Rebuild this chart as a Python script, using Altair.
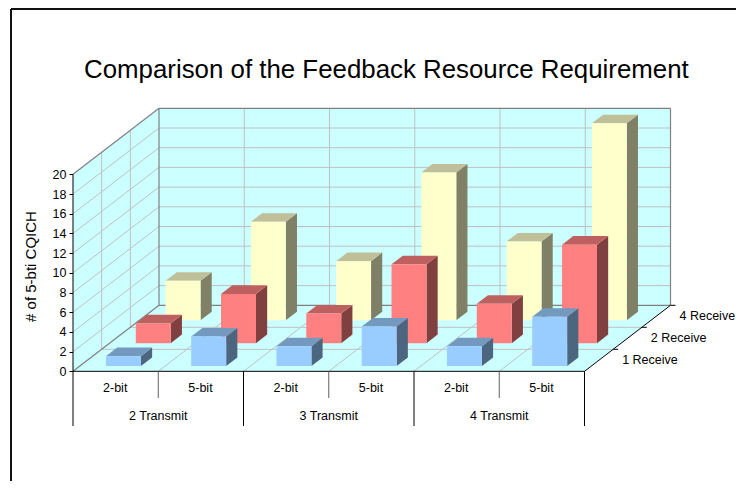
import altair as alt
import pandas as pd

bits = ["2-bit", "5-bit", "2-bit", "5-bit", "2-bit", "5-bit"]
transmit = ["2 Transmit", "3 Transmit", "4 Transmit"]
receive = ["1 Receive", "2 Receive", "4 Receive"]
one_receive = [1, 3, 2, 4, 2, 5]
two_receive = [2, 5, 3, 8, 4, 10]
four_receive = [4, 10, 6, 15, 8, 20]
y_ticks = [0, 2, 4, 6, 8, 10, 12, 14, 16, 18, 20]

W, H = 728, 473
PX_CAT, PX_VAL = 85.25, 9.85
X0, Y0 = 65.0, 363.3
DX = (86 / 3) / PX_CAT   # one depth row, in categories
DY = (66 / 3) / PX_VAL   # one depth row, in value units
BAR_L, BAR_W, BAR_D = 0.306, 0.41, 0.39
ROW_START, ROW_STEP = 0.24, 1.04
YMAX = 20


def px(c, d=0.0):
    return c + d * DX


def py(v, d=0.0):
    return v + d * DY


def page_x(p):
    return (p - 8 - X0) / PX_CAT


def page_y(p):
    return (Y0 - (p - 8)) / PX_VAL


xs = alt.Scale(domain=[-X0 / PX_CAT, (W - X0) / PX_CAT], range=[0, W], nice=False, zero=False)
ys = alt.Scale(domain=[(Y0 - H) / PX_VAL, Y0 / PX_VAL], range=[H, 0], nice=False, zero=False)
y_axis = alt.Axis(
    values=y_ticks, domain=False, grid=False, offset=-X0, tickSize=4, tickColor="#000000",
    labelFont="Liberation Sans", labelFontSize=12.5, labelColor="#000000", labelPadding=3,
    title="# of 5-bti CQICH", titleFont="Liberation Sans", titleFontSize=15,
    titleFontWeight="normal", titleColor="#000000", titleX=-43, titleY=258, titleAngle=-90,
    titleAlign="center", titleBaseline="middle")
X = lambda f="x": alt.X(f"{f}:Q", scale=xs, axis=None)
Y = lambda f="y": alt.Y(f"{f}:Q", scale=ys, axis=y_axis)

layers = []

# walls and floor
left_wall = pd.DataFrame([{"x": px(0, d), "y": py(0, d), "y2": py(YMAX, d)} for d in (0, 3)])
layers.append(alt.Chart(left_wall).mark_area(color="#CCFFFF").encode(X(), Y(), y2="y2:Q"))
back_wall = pd.DataFrame([{"x": px(0, 3), "x2": px(6, 3), "y": py(0, 3), "y2": py(YMAX, 3)}])
layers.append(alt.Chart(back_wall).mark_rect(color="#CCFFFF").encode(X(), x2="x2:Q", y=Y(), y2="y2:Q"))
floor = pd.DataFrame([{"y": py(0, d), "x": px(0, d), "x2": px(6, d)} for d in (0, 3)])
layers.append(alt.Chart(floor).mark_area(color="#CCFFFF", orient="horizontal").encode(X(), x2="x2:Q", y=Y()))


def seg_df(segs):
    rows = []
    for i, (a, b) in enumerate(segs):
        rows.append({"x": a[0], "y": a[1], "g": i, "o": 0})
        rows.append({"x": b[0], "y": b[1], "g": i, "o": 1})
    return pd.DataFrame(rows)


def lines(segs, color, width=1.0):
    return alt.Chart(seg_df(segs)).mark_line(color=color, strokeWidth=width).encode(
        X(), Y(), detail="g:N", order="o:Q")


grid = []
for v in y_ticks[1:-1]:
    grid.append(((px(0, 0), py(v, 0)), (px(0, 3), py(v, 3))))
    grid.append(((px(0, 3), py(v, 3)), (px(6, 3), py(v, 3))))
for d in (1, 2):
    grid.append(((px(0, d), py(0, d)), (px(0, d), py(YMAX, d))))
    grid.append(((px(0, d), py(0, d)), (px(6, d), py(0, d))))
for c in range(1, 6):
    grid.append(((px(c, 3), py(0, 3)), (px(c, 3), py(YMAX, 3))))
    grid.append(((px(c, 0), py(0, 0)), (px(c, 3), py(0, 3))))
layers.append(lines(grid, "#C0C0C0", 1))

edges = [
    ((px(0, 0), py(YMAX, 0)), (px(0, 3), py(YMAX, 3))),
    ((px(0, 3), py(YMAX, 3)), (px(6, 3), py(YMAX, 3))),
    ((px(6, 3), py(YMAX, 3)), (px(6, 3), py(0, 3))),
    ((px(0, 3), py(YMAX, 3)), (px(0, 3), py(0, 3))),
    ((px(0, 3), py(0, 3)), (px(6, 3), py(0, 3))),
    ((px(0, 0), py(0, 0)), (px(0, 3), py(0, 3))),
]
layers.append(lines(edges, "#808080", 1.2))

# bars, back row first
series = [
    (four_receive, 2, "#FFFFCC", "#BFBF99", "#808066"),
    (two_receive, 1, "#FF8080", "#BF6060", "#804040"),
    (one_receive, 0, "#99CCFF", "#7399BF", "#4D6680"),
]
for vals, row, front, top, side in series:
    d0 = ROW_START + ROW_STEP * row
    d1 = d0 + BAR_D
    front_rows, top_rows, side_rows = [], [], []
    for i, v in enumerate(vals):
        c0 = i + BAR_L
        c1 = c0 + BAR_W
        front_rows.append({"x": px(c0, d0), "x2": px(c1, d0), "y": py(0, d0), "y2": py(v, d0)})
        for d in (d0, d1):
            top_rows.append({"g": i, "y": py(v, d), "x": px(c0, d), "x2": px(c1, d)})
            side_rows.append({"g": i, "x": px(c1, d), "y": py(0, d), "y2": py(v, d)})
    layers.append(alt.Chart(pd.DataFrame(side_rows)).mark_area(color=side).encode(
        X(), Y(), y2="y2:Q", detail="g:N"))
    layers.append(alt.Chart(pd.DataFrame(top_rows)).mark_area(color=top, orient="horizontal").encode(
        X(), x2="x2:Q", y=Y(), detail="g:N"))
    layers.append(alt.Chart(pd.DataFrame(front_rows)).mark_rect(color=front).encode(
        X(), x2="x2:Q", y=Y(), y2="y2:Q"))

# axis lines
axis_lines = [
    ((px(0), 0), (px(0), YMAX)),
    ((px(0), 0), (px(6), 0)),
    ((px(6, 0), 0), (px(6, 3), py(0, 3))),
]
for d in (1, 2, 3):
    axis_lines.append(((px(6, d), py(0, d)), (px(6, d) + 5 / PX_CAT, py(0, d))))
for c in (0, 2, 4, 6):
    axis_lines.append(((px(c), 0), (px(c), page_y(426))))
layers.append(lines(axis_lines, "#000000", 1))
minor = [((px(c), 0), (px(c), page_y(398))) for c in (1, 3, 5)]
layers.append(lines(minor, "#606060", 1))

# outer frame
frame = [
    ((page_x(11), page_y(9)), (page_x(744), page_y(9))),
    ((page_x(11), page_y(9)), (page_x(11), page_y(489))),
]
layers.append(lines(frame, "#111111", 2))


def texts(rows, align="center"):
    return alt.Chart(pd.DataFrame(rows)).mark_text(
        font="Liberation Sans", fontSize=12.5, color="#000000", align=align, baseline="middle"
    ).encode(X(), Y(), text="t:N")


layers.append(texts([{"x": i + 0.5 - 0.005, "y": page_y(387.7), "t": b} for i, b in enumerate(bits)]))
layers.append(texts([{"x": 2 * i + 1, "y": page_y(415.7), "t": t} for i, t in enumerate(transmit)]))
layers.append(texts([
    {"x": px(6, d) + 9 / PX_CAT, "y": py(0, d) - 11 / PX_VAL, "t": t}
    for d, t in zip((1, 2, 3), receive)
], align="left"))

chart = alt.layer(*layers).properties(
    width=W, height=H, padding=0, autosize=alt.AutoSizeParams(type="none"),
    background="white",
    title=alt.TitleParams(
        "Comparison of the Feedback Resource Requirement", anchor="start", frame="group", dx=76, dy=103,
        font="Liberation Sans", fontSize=25.85, fontWeight="normal", color="#000000", baseline="alphabetic"),
).configure_view(stroke=None)

chart.save("out.html", embed_options={"renderer": "svg", "actions": False})
